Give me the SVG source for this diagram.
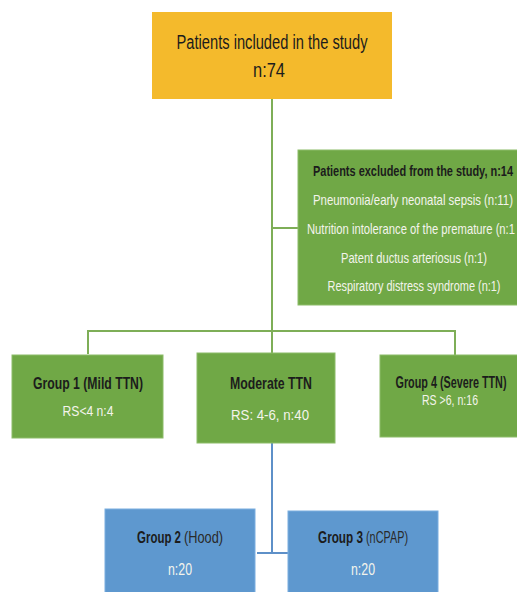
<svg xmlns="http://www.w3.org/2000/svg" width="517" height="592" viewBox="0 0 517 592">
<style>
text{font-family:"Liberation Sans",Arial,sans-serif;text-anchor:middle}
.s{text-anchor:start}
.dark{fill:#1c1c1c}
.light{fill:#f4f4ec}
.b{font-weight:bold}
.yel{fill:#F4BA2C}
.grn{fill:#70A846;stroke:#8cbc68;stroke-width:1}
.blu{fill:#5E98CF;stroke:#7aaee0;stroke-width:1}
.gl{fill:none;stroke:#7EAE57;stroke-width:2}
.bl{fill:none;stroke:#5E90C8;stroke-width:2}
</style>
<rect width="517" height="592" fill="#ffffff"/>
<g id="connectors">
<path class="gl" d="M272 99 V331 M272 228 H298 M88 354 V331 H455 V355 M272 331 V353"/>
<path class="bl" d="M272 443 V553 M257 553 H288"/>
</g>
<g id="included">
<rect class="yel" x="152" y="12" width="240" height="87"/>
<text class="dark" x="272" y="49" font-size="20" textLength="191" lengthAdjust="spacingAndGlyphs">Patients included in the study</text>
<text class="dark" x="269" y="77" font-size="20" textLength="32" lengthAdjust="spacingAndGlyphs">n:74</text>
</g>
<g id="excluded">
<rect class="grn" x="298" y="150" width="220" height="155"/>
<text class="dark b" x="413" y="176" font-size="15" textLength="200" lengthAdjust="spacingAndGlyphs">Patients excluded from the study, n:14</text>
<text class="light" x="413" y="205" font-size="15" textLength="200" lengthAdjust="spacingAndGlyphs">Pneumonia/early neonatal sepsis (n:11)</text>
<text class="light s" x="307" y="234" font-size="15" textLength="208" lengthAdjust="spacingAndGlyphs">Nutrition intolerance of the premature (n:1</text>
<text class="light" x="414" y="263" font-size="15" textLength="146" lengthAdjust="spacingAndGlyphs">Patent ductus arteriosus (n:1)</text>
<text class="light" x="414" y="291" font-size="15" textLength="173" lengthAdjust="spacingAndGlyphs">Respiratory distress syndrome (n:1)</text>
</g>
<g id="group1">
<rect class="grn" x="12" y="355" width="151" height="83"/>
<text class="dark b" x="88" y="389" font-size="16" textLength="110" lengthAdjust="spacingAndGlyphs">Group 1 (Mild TTN)</text>
<text class="light" x="88" y="416" font-size="15" textLength="51" lengthAdjust="spacingAndGlyphs">RS&lt;4 n:4</text>
</g>
<g id="moderate">
<rect class="grn" x="197" y="353" width="138" height="90"/>
<text class="dark b" x="271" y="389" font-size="16" textLength="82" lengthAdjust="spacingAndGlyphs">Moderate TTN</text>
<text class="light" x="270" y="420" font-size="15" textLength="78" lengthAdjust="spacingAndGlyphs">RS: 4-6, n:40</text>
</g>
<g id="group4">
<rect class="grn" x="380" y="355" width="138" height="82"/>
<text class="dark b" x="451" y="388" font-size="16" textLength="111" lengthAdjust="spacingAndGlyphs">Group 4 (Severe TTN)</text>
<text class="light" x="450" y="405" font-size="15" textLength="56" lengthAdjust="spacingAndGlyphs">RS &gt;6, n:16</text>
</g>
<g id="group2">
<rect class="blu" x="105" y="509" width="150" height="90"/>
<text class="dark b s" x="137" y="543" font-size="16" textLength="44" lengthAdjust="spacingAndGlyphs">Group 2</text>
<text class="s" x="184" y="543" font-size="16" fill="#2a2a2a" textLength="39" lengthAdjust="spacingAndGlyphs">(Hood)</text>
<text class="light" x="180" y="575" font-size="16" textLength="24" lengthAdjust="spacingAndGlyphs">n:20</text>
</g>
<g id="group3">
<rect class="blu" x="288" y="511" width="150" height="90"/>
<text class="dark b s" x="318" y="543" font-size="16" textLength="45" lengthAdjust="spacingAndGlyphs">Group 3</text>
<text class="s" x="366" y="543" font-size="16" fill="#2a2a2a" textLength="42" lengthAdjust="spacingAndGlyphs">(nCPAP)</text>
<text class="light" x="363" y="575" font-size="16" textLength="24" lengthAdjust="spacingAndGlyphs">n:20</text>
</g>
</svg>
